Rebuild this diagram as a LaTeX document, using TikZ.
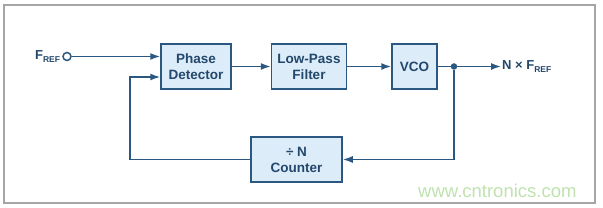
\documentclass[tikz,border=0pt]{standalone}
\usepackage{fontspec}
\setmainfont{Liberation Sans}
\usetikzlibrary{positioning,arrows.meta}

\definecolor{plline}{HTML}{2A5880}
\definecolor{plfill}{HTML}{DCECF8}
\definecolor{pltext}{HTML}{23486B}
\definecolor{wmgreen}{HTML}{BFE2AE}
\newcommand{\fref}{F\raisebox{-0.4ex}{\fontsize{8.5}{8.5}\selectfont REF}}

\tikzset{
  block/.style={draw=plline, fill=plfill, line width=1.5pt, text=pltext,
                font=\bfseries\fontsize{13.5}{16}\selectfont, align=center,
                minimum height=45pt, inner sep=0pt},
  sig/.style={draw=plline, line width=1.5pt},
  lbl/.style={text=pltext, font=\bfseries\fontsize{13}{15}\selectfont, inner sep=1pt}
}

\begin{document}
\begin{tikzpicture}[x=1pt, y=1pt, >={Latex[length=10pt,width=7pt]}]
  \useasboundingbox (0,0) rectangle (603,208);
  \draw[black!35, line width=1.2pt] (4,5) rectangle (595,203);

  % forward path
  \node (pd)  [block, minimum width=70pt] at (196,141.5) {Phase\\Detector};
  \node (lpf) [block, minimum width=75pt, right=39pt of pd] {Low-Pass\\Filter};
  \node (vco) [block, minimum width=45pt, right=44pt of lpf] {VCO};
  \node (cnt) [block, minimum width=91pt] at (296.5,48.5) {÷ N\\Counter};

  % input and output
  \node (in)  [circle, draw=plline, line width=1.5pt, fill=white,
               inner sep=0pt, minimum size=8pt] at (67,151.5) {};
  \node (inl) [lbl, left=1pt of in] {\fref};
  \node (tap) [circle, fill=plline, inner sep=0pt, minimum size=6.5pt]
    at (454,141.5) {};
  \node (outl) [lbl, anchor=west] at (501,141.5) {N × \fref};
  \coordinate (fb) at (130,48.5);

  \draw[sig,->] (in) -- (pd.west |- in);
  \draw[sig,->] (pd) -- (lpf);
  \draw[sig,->] (lpf) -- (vco);
  \draw[sig] (vco) -- (tap);
  \draw[sig,->] (tap) -- (outl);
  \draw[sig,->] (tap) |- (cnt);
  \draw[sig,->] (cnt) -- (fb) |- ([yshift=-10.5pt]pd.west);

  \node (wm) [anchor=base west, text=wmgreen, inner sep=0pt,
              font=\fontsize{18.5}{18.5}\selectfont] at (418,10)
    {www.cntronics.com};
\end{tikzpicture}
\end{document}
